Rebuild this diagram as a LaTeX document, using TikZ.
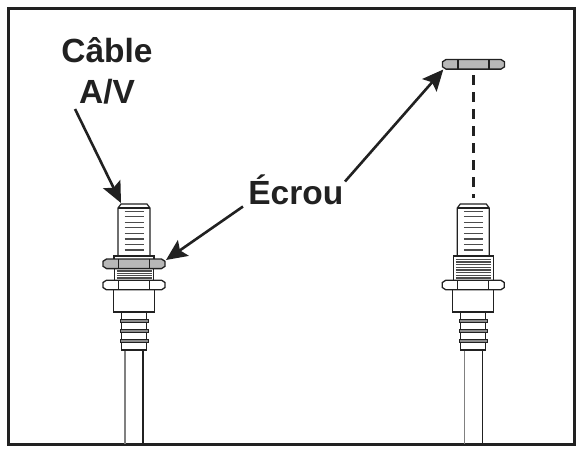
\documentclass[tikz,border=0pt]{standalone}
\usepackage{fontspec}
\setmainfont{Liberation Sans}
\usetikzlibrary{arrows.meta}
\definecolor{nutgray}{gray}{0.72}
\definecolor{ink}{gray}{0.13}
\tikzset{
  lbl/.style={font=\bfseries\fontsize{33.5}{36}\selectfont,inner sep=0pt,anchor=base,text=ink},
  pointer/.style={line width=2.6pt,ink,-{Stealth[length=21pt,width=19pt,inset=4pt]}},
  part/.style={line width=1.2pt,fill=white,draw=ink},
  thin line/.style={line width=1.1pt,black!70},
  nut/.pic={
    \draw[line width=1.3pt,draw=ink,fill=#1] (-31,-2.5) -- (-27.5,-4.8) -- (27.5,-4.8) -- (31,-2.5) -- (31,2.5) -- (27.5,4.8) -- (-27.5,4.8) -- (-31,2.5) -- cycle;
    \draw[line width=1.1pt,ink] (-15.5,-4.8) -- (-15.5,4.8) (15.5,-4.8) -- (15.5,4.8);
  }
}
\begin{document}
\begin{tikzpicture}[x=1pt,y=-1pt]
\useasboundingbox (0,0) rectangle (581,448);
\draw[line width=3pt,ink] (8.5,8) rectangle (574.5,444.5);
% connectors
\foreach \cx/\hasnut in {134/1,473.3/0} {
  \begin{scope}[shift={(\cx,0)}]
  \draw[line width=1.3pt,black!50] (-9,350) -- (-9,444);
  \draw[line width=1.2pt,ink] (9,350) -- (9,444);
  \draw[part] (-12.5,312) rectangle (12.5,350);
  \foreach \y in {320.5,331,341} {
    \draw[line width=1pt,draw=ink,fill=black!45] (-14,\y-1.5) rectangle (14,\y+1.5);
  }
  \draw[part] (-20.5,289) rectangle (20.5,312);
  \draw[part] (-13,204) -- (-16,208) -- (-16,256) -- (16,256) -- (16,208) -- (13,204) -- cycle;
  \draw[line width=1.2pt,ink] (-16,208) -- (16,208);
  \foreach \y in {211.3,216.7,222.3,227.7,233.3,239,244.3,250} {
    \draw[thin line] (-9.5,\y) -- (9.5,\y);
  }
  \ifnum\hasnut=1
    \draw[part] (-20,256) rectangle (20,260);
    \draw[part] (-19.5,268) rectangle (19.5,281);
    \foreach \y in {271,273.3,275.7,278} {
      \draw[thin line] (-17.5,\y) -- (17.5,\y);
    }
    \pic at (0,263.8) {nut=nutgray};
  \else
    \draw[part] (-20,256) rectangle (20,281);
    \foreach \y in {259.3,262,264.7,267.4,270,272.7,275.4,278} {
      \draw[thin line] (-17.5,\y) -- (17.5,\y);
    }
  \fi
  \pic at (0,285) {nut=white};
  \end{scope}
}
\pic at (473.5,64.3) {nut=nutgray};
\draw[line width=2.4pt,ink,dash pattern=on 10pt off 7pt] (473.3,75) -- (473.3,198);
% labels
\node[lbl] (cable) at (107,62) {Câble};
\node[lbl] (av) at (107,103) {A/V};
\node[lbl] (ecrou) at (295.8,204) {Écrou};
\coordinate (tipcable) at (121,203);
\coordinate (tipleft) at (166,260);
\coordinate (tiptop) at (443.3,69.5);
\coordinate (startcable) at (75,109);
\coordinate (startleft) at (243,206.5);
\coordinate (starttop) at (345,181.5);
\draw[pointer] (startcable) -- (tipcable);
\draw[pointer] (startleft) -- (tipleft);
\draw[pointer] (starttop) -- (tiptop);
\end{tikzpicture}
\end{document}
